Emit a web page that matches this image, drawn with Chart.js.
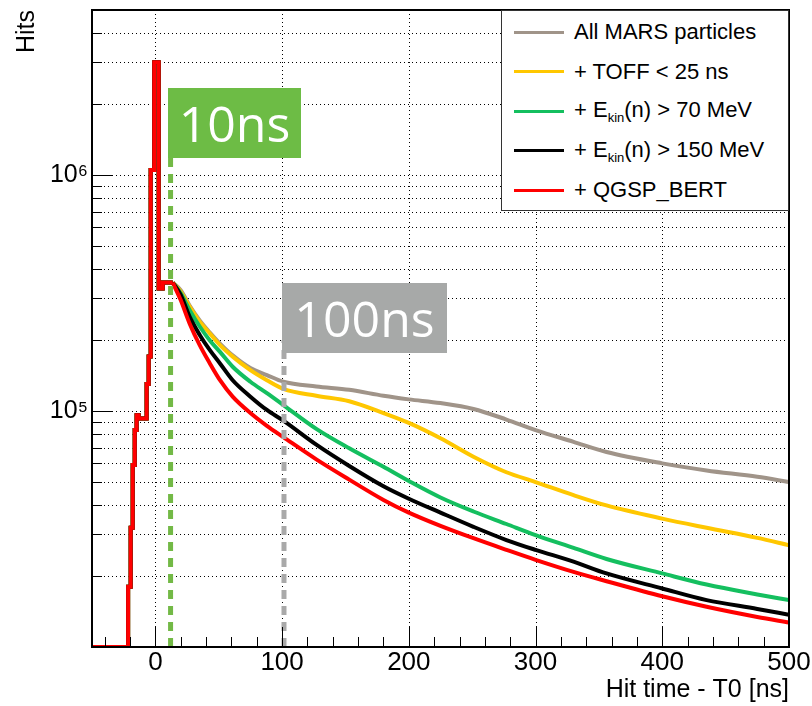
<!DOCTYPE html>
<html>
<head>
<meta charset="utf-8">
<script src="https://cdn.jsdelivr.net/npm/chart.js@4.4.1/dist/chart.umd.min.js"></script>
<style>
  html, body { margin: 0; padding: 0; background: #fff; }
  #wrap { position: relative; width: 812px; height: 706px; }
  #plot { position: absolute; left: 0; top: 0; }
  .tag { position: absolute; color: #fff; font-family: 'Open Sans', sans-serif; font-size: 50px; line-height: 1;
         display: flex; align-items: center; justify-content: center; }
  #legend { position: absolute; left: 501px; top: 10px; width: 288px; height: 201px; box-sizing: border-box;
            border: 1px solid #333; background: #fff; font-family: 'Liberation Sans', Arial, sans-serif; font-size: 22px; color: #000; }
  .row { position: absolute; left: 0; height: 30px; display: flex; align-items: center; white-space: nowrap; }
  .swatch { width: 50px; height: 3px; margin-left: 12px; margin-right: 10px; }
  .row sub { font-size: 13px; vertical-align: -5px; }
</style>
</head>
<body>
<div id="wrap">
  <canvas id="plot" width="812" height="706"></canvas>
  <div class="tag" style="left:168px; top:88px; width:133px; height:70px; background:#6dbc45;">10ns</div>
  <div class="tag" style="left:282px; top:283px; width:165px; height:70px; background:#a7a9a8;">100ns</div>
  <div id="legend"></div>
</div>
<script>
// axis ranges
const xMin = -50, xMax = 500;
const yMin = 1e4, yMax = 5e6;

// tick labels
const xLabelTicks = [0, 100, 200, 300, 400, 500];
const xMinorTicks = [-40, -20, 20, 40, 60, 80, 120, 140, 160, 180, 220, 240, 260, 280, 320, 340, 360, 380, 420, 440, 460, 480];
const yMajorTicks = [1e5, 1e6];
const yMajorLabels = ['10\u2075', '10\u2076'];
const yMinorTicks = [2e4, 3e4, 4e4, 5e4, 6e4, 7e4, 8e4, 9e4, 2e5, 3e5, 4e5, 5e5, 6e5, 7e5, 8e5, 9e5, 2e6, 3e6, 4e6];

// rising edge and prompt peak (shared by all selections): bin edges [ns] and hits
const riseEdges = [-50, -21.5, -19.5, -17.9, -16.3, -14.8, -13.2, -6.9, -5.3, -3.7, -0.9, 2.6, 5.8, 13.7];
const riseHits = [1e4, 1.8e4, 3.2e4, 5.9e4, 8.3e4, 9.6e4, 9.3e4, 1.3e5, 1.7e5, 1.05e6, 3.0e6, 3.3e5, 3.5e5];

// tail [ns]
const tailTime = [13.7, 20, 27, 35, 43, 51, 61, 75, 88, 101, 127, 153, 180, 200, 225, 251, 277, 300, 330, 356, 400, 435, 475, 500];
const allMars  = [3.5e5, 3.25e5, 2.8e5, 2.42e5, 2.15e5, 1.93e5, 1.72e5, 1.52e5, 1.42e5, 1.33e5, 1.27e5, 1.23e5, 1.16e5, 1.12e5, 1.08e5, 1.02e5, 9.2e4, 8.3e4, 7.4e4, 6.7e4, 6.0e4, 5.6e4, 5.26e4, 5.0e4];
const toffCut  = [3.5e5, 3.2e5, 2.77e5, 2.39e5, 2.13e5, 1.9e5, 1.7e5, 1.49e5, 1.35e5, 1.24e5, 1.16e5, 1.1e5, 9.8e4, 8.9e4, 7.66e4, 6.4e4, 5.5e4, 5.0e4, 4.4e4, 3.98e4, 3.5e4, 3.2e4, 2.9e4, 2.7e4];
const ekin70   = [3.5e5, 3.15e5, 2.68e5, 2.28e5, 1.99e5, 1.78e5, 1.54e5, 1.33e5, 1.19e5, 1.06e5, 8.4e4, 6.95e4, 5.8e4, 5.05e4, 4.3e4, 3.75e4, 3.32e4, 2.98e4, 2.63e4, 2.36e4, 2.05e4, 1.84e4, 1.67e4, 1.58e4];
const ekin150  = [3.5e5, 3.1e5, 2.51e5, 2.1e5, 1.81e5, 1.59e5, 1.35e5, 1.15e5, 1.01e5, 9.1e4, 7.2e4, 5.85e4, 4.8e4, 4.25e4, 3.71e4, 3.23e4, 2.84e4, 2.58e4, 2.3e4, 2.05e4, 1.77e4, 1.58e4, 1.45e4, 1.37e4];
const qgspBert = [3.5e5, 2.95e5, 2.35e5, 1.9e5, 1.59e5, 1.35e5, 1.15e5, 9.8e4, 8.65e4, 7.75e4, 6.24e4, 5.12e4, 4.2e4, 3.71e4, 3.26e4, 2.89e4, 2.58e4, 2.34e4, 2.08e4, 1.9e4, 1.64e4, 1.48e4, 1.34e4, 1.27e4];

const seriesNames = ['All MARS particles', '+ TOFF &lt; 25 ns', '+ E<sub>kin</sub>(n) &gt; 70 MeV', '+ E<sub>kin</sub>(n) &gt; 150 MeV', '+ QGSP_BERT'];
const seriesColors = ['#a09489', '#ffc700', '#14bf5f', '#000000', '#ff0000'];
const seriesTails = [allMars, toffCut, ekin70, ekin150, qgspBert];

// marker lines: time [ns] and top of the dashed line [hits]
const markTimes = [12, 101.5];
const markTops = [1.3e6, 2.0e5];
const markColors = ['#73b946', '#a9a9a9'];

// histogram outline of the rise: one horizontal run per bin
function risePoints() {
  const pts = [];
  for (let i = 0; i < riseHits.length; i++) {
    pts.push({ x: riseEdges[i], y: riseHits[i] });
    pts.push({ x: riseEdges[i + 1], y: riseHits[i] });
  }
  return pts;
}

const datasets = [];
seriesTails.forEach((tail, i) => {
  const style = { borderColor: seriesColors[i], borderWidth: 4, pointRadius: 0, order: 10 - i };
  datasets.push({ ...style, data: risePoints(), tension: 0 });
  datasets.push({ ...style, data: tailTime.map((t, k) => ({ x: t, y: tail[k] })), cubicInterpolationMode: 'monotone' });
});
markTimes.forEach((t, i) => {
  datasets.push({
    data: [{ x: t, y: yMin }, { x: t, y: markTops[i] }],
    borderColor: markColors[i],
    borderWidth: 5,
    borderDash: [9, 7],
    pointRadius: 0,
    order: -1,
  });
});

// ROOT style frame: dotted grid, inner tick marks
const rootFrame = {
  id: 'rootFrame',
  beforeDatasetsDraw(chart) {
    const { ctx, chartArea: a, scales: { x, y } } = chart;
    ctx.save();
    ctx.strokeStyle = '#000';
    ctx.lineWidth = 1;
    ctx.setLineDash([1, 3]);
    ctx.beginPath();
    xLabelTicks.forEach(v => {
      if (v <= xMin || v >= xMax) return;
      const px = Math.round(x.getPixelForValue(v)) + 0.5;
      ctx.moveTo(px, a.top); ctx.lineTo(px, a.bottom);
    });
    yMajorTicks.concat(yMinorTicks).forEach(v => {
      const py = Math.round(y.getPixelForValue(v)) + 0.5;
      ctx.moveTo(a.left, py); ctx.lineTo(a.right, py);
    });
    ctx.stroke();
    ctx.restore();
  },
  afterDatasetsDraw(chart) {
    const { ctx, chartArea: a, scales: { x, y } } = chart;
    ctx.save();
    ctx.strokeStyle = '#000';
    ctx.lineWidth = 1;
    ctx.beginPath();
    const xTick = (v, len) => {
      const px = Math.round(x.getPixelForValue(v)) + 0.5;
      ctx.moveTo(px, a.bottom); ctx.lineTo(px, a.bottom - len);
    };
    const yTick = (v, len) => {
      const py = Math.round(y.getPixelForValue(v)) + 0.5;
      ctx.moveTo(a.left, py); ctx.lineTo(a.left + len, py);
    };
    xLabelTicks.forEach(v => xTick(v, 20));
    xMinorTicks.forEach(v => xTick(v, 10));
    yMajorTicks.forEach(v => yTick(v, 20));
    yMinorTicks.forEach(v => yTick(v, 10));
    ctx.stroke();
    ctx.lineWidth = 2;
    ctx.strokeRect(a.left, a.top, a.right - a.left, a.bottom - a.top);
    ctx.restore();
  }
};

const axisFont = { family: "'Liberation Sans', Arial, sans-serif", size: 26 };

new Chart(document.getElementById('plot'), {
  type: 'line',
  data: { datasets },
  options: {
    responsive: false,
    animation: false,
    layout: { padding: { top: 10, right: 23, bottom: 0, left: 0 } },
    plugins: { legend: { display: false }, tooltip: { enabled: false } },
    scales: {
      x: {
        type: 'linear',
        min: xMin, max: xMax,
        grid: { display: false, drawTicks: false },
        border: { display: false },
        afterBuildTicks: s => { s.ticks = xLabelTicks.map(v => ({ value: v })); },
        afterFit: s => { s.height = 59; s.paddingLeft = 0; s.paddingRight = 0; },
        ticks: { color: '#000', font: axisFont, padding: 0, autoSkip: false, maxRotation: 0 },
        title: { display: true, text: 'Hit time - T0 [ns]', align: 'end', color: '#000',
                 font: { family: axisFont.family, size: 25 }, padding: { top: 0, bottom: 1 } },
      },
      y: {
        type: 'logarithmic',
        min: yMin, max: yMax,
        grid: { display: false, drawTicks: false },
        border: { display: false },
        afterBuildTicks: s => { s.ticks = yMajorTicks.map(v => ({ value: v })); },
        afterFit: s => { s.width = 92; s.paddingTop = 0; s.paddingBottom = 0; },
        ticks: {
          color: '#000', font: { family: axisFont.family, size: 25 }, padding: 4, autoSkip: false,
          callback: v => { const i = yMajorTicks.indexOf(v); return i < 0 ? '' : yMajorLabels[i]; },
        },
        title: { display: true, text: 'Hits', align: 'end', color: '#000',
                 font: { family: axisFont.family, size: 25 }, padding: { top: 12, bottom: 0 } },
      },
    },
  },
  plugins: [rootFrame],
});

// legend box (ROOT TLegend style)
const legend = document.getElementById('legend');
seriesNames.forEach((name, i) => {
  const row = document.createElement('div');
  row.className = 'row';
  row.style.top = (6 + i * 39.5) + 'px';
  row.innerHTML = '<span class="swatch" style="background:' + seriesColors[i] + '"></span><span>' + name + '</span>';
  legend.appendChild(row);
});
</script>
</body>
</html>
